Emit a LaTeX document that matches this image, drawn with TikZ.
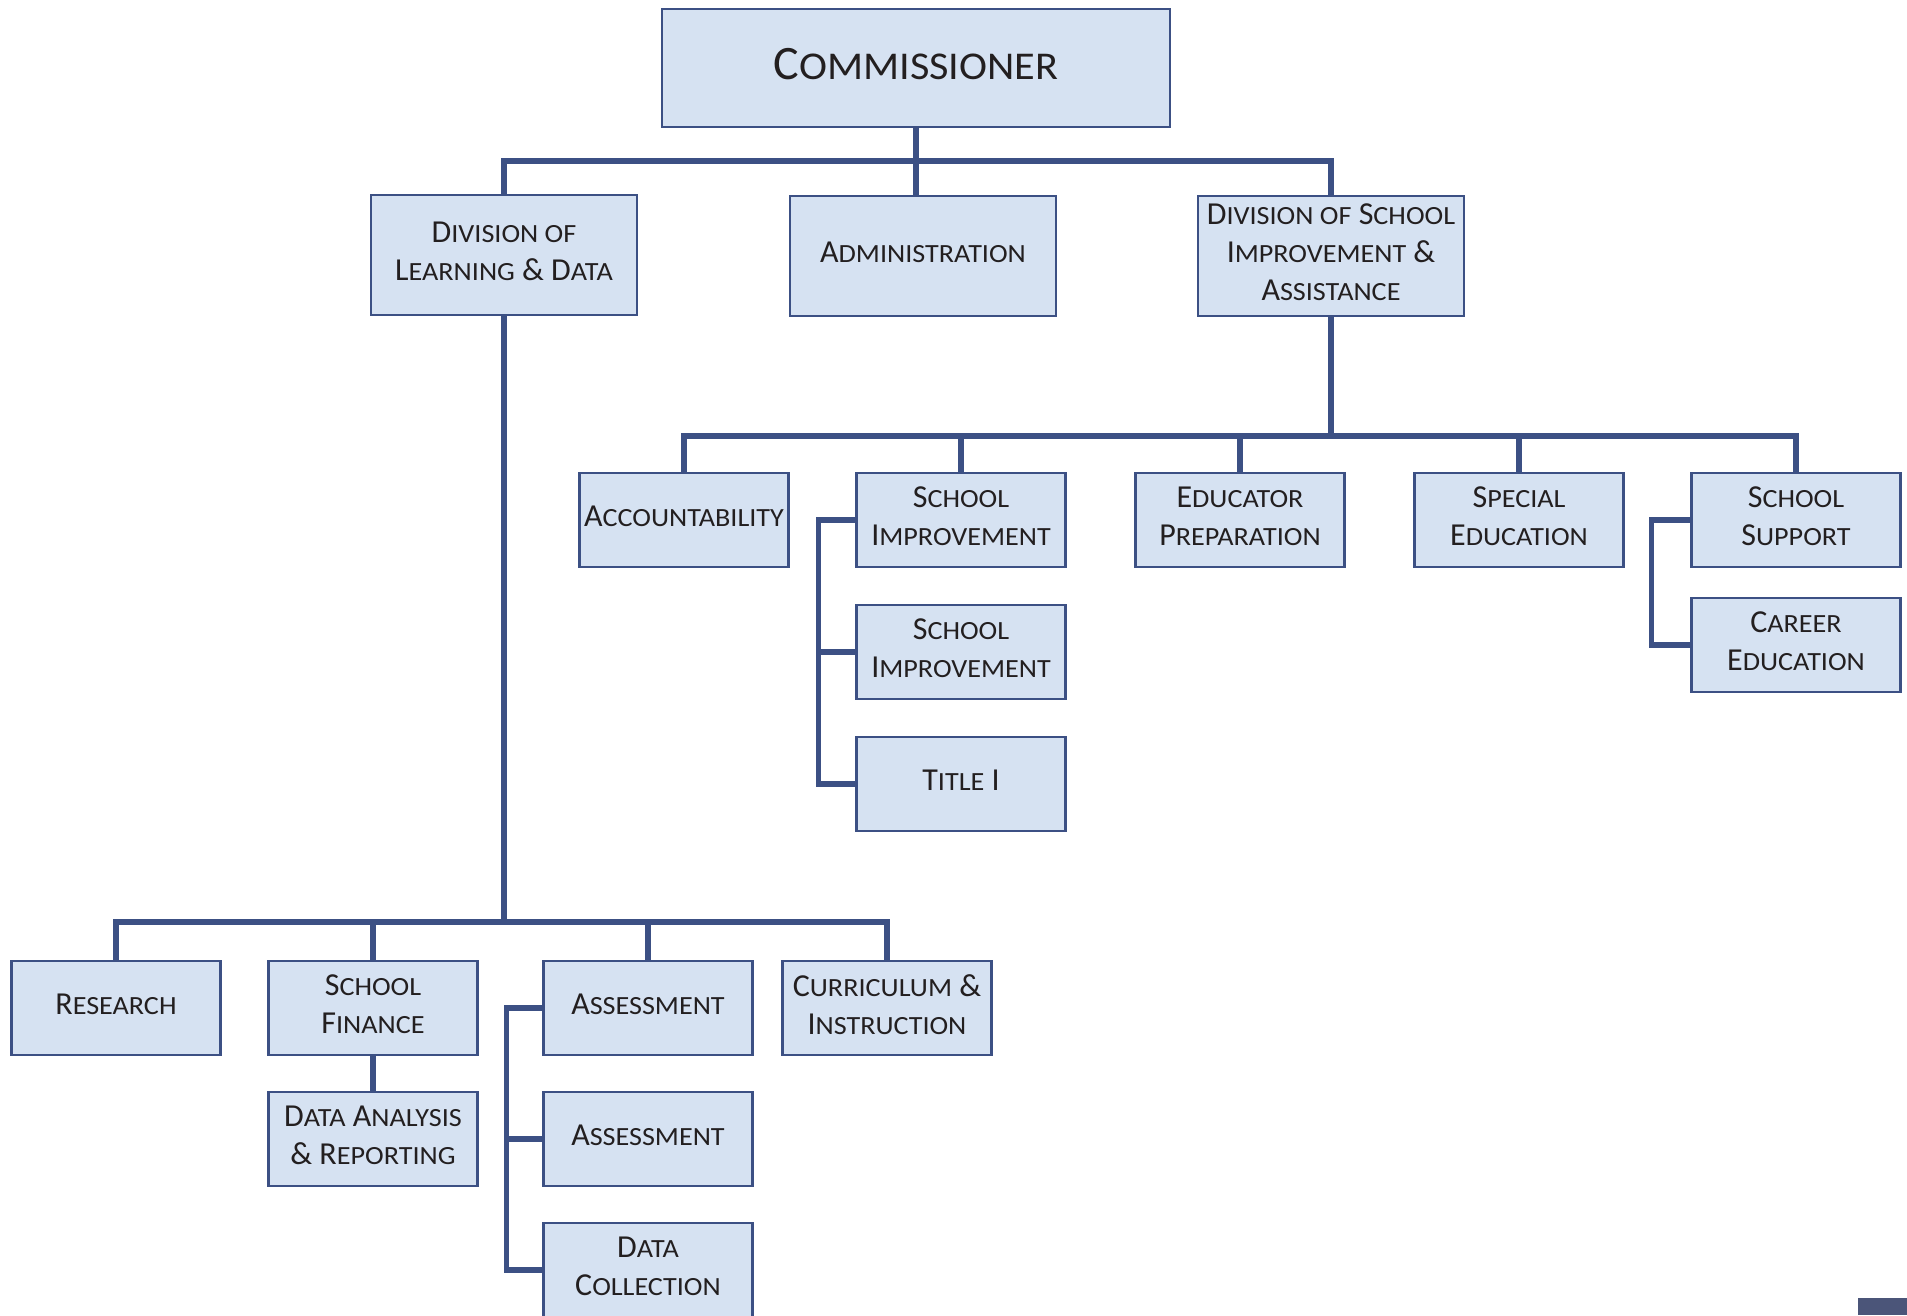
\documentclass[tikz,border=0pt]{standalone}
\usepackage{fontspec}
\setmainfont{Carlito}
\usepackage{graphicx}
\usetikzlibrary{positioning}
\definecolor{boxfill}{HTML}{D6E2F2}
\definecolor{boxline}{HTML}{3C5084}
\definecolor{inkc}{HTML}{231F20}
\definecolor{marker}{HTML}{4B5579}
\newcommand{\sm}[1]{\scalebox{0.88}[0.82]{#1}}

\begin{document}
\begin{tikzpicture}[x=0.75pt,y=-0.75pt]
\tikzstyle{unit}=[rectangle, draw=boxline, line width=1.6pt, fill=boxfill, text=inkc, align=center, inner sep=0pt, text depth=5.5pt, minimum width=156.75pt, minimum height=70.5pt, font=\fontsize{24}{28.3}\selectfont]
\tikzstyle{division}=[unit, minimum width=200pt, minimum height=90pt]
\tikzstyle{head}=[division, minimum width=381pt, minimum height=88.5pt, font=\fontsize{36}{40}\selectfont]
\tikzstyle{connect}=[draw=boxline, line width=3.8pt]
\useasboundingbox (0,0) rectangle (1907,1315);

	% top level
	\node[head] (comm) at (916,68) {C\sm{OMMISSIONER}};
	\node[division] (dld) at (504,255) {D\sm{IVISION OF}\\L\sm{EARNING} \& D\sm{ATA}};
	\node[division] (admin) at (923,256) {A\sm{DMINISTRATION}};
	\node[division] (dsia) at (1331,256) {D\sm{IVISION OF} S\sm{CHOOL}\\I\sm{MPROVEMENT} \&\\A\sm{SSISTANCE}};

	% school improvement & assistance
	\node[unit] (acct) at (684,520) {A\sm{CCOUNTABILITY}};
	\node[unit] (si1) at (961,520) {S\sm{CHOOL}\\I\sm{MPROVEMENT}};
	\node[unit] (ep) at (1240,520) {E\sm{DUCATOR}\\P\sm{REPARATION}};
	\node[unit] (se) at (1519,520) {S\sm{PECIAL}\\E\sm{DUCATION}};
	\node[unit] (ss) at (1796,520) {S\sm{CHOOL}\\S\sm{UPPORT}};
	\node[unit] (si2) at (961,652) {S\sm{CHOOL}\\I\sm{MPROVEMENT}};
	\node[unit] (title) at (961,784) {T\sm{ITLE} I};
	\node[unit] (ce) at (1796,645) {C\sm{AREER}\\E\sm{DUCATION}};

	% learning & data
	\node[unit] (res) at (116,1008) {R\sm{ESEARCH}};
	\node[unit] (sf) at (373,1008) {S\sm{CHOOL}\\F\sm{INANCE}};
	\node[unit] (as1) at (648,1008) {A\sm{SSESSMENT}};
	\node[unit] (ci) at (887,1008) {C\sm{URRICULUM} \&\\I\sm{NSTRUCTION}};
	\node[unit] (da) at (373,1139) {D\sm{ATA} A\sm{NALYSIS}\\\& R\sm{EPORTING}};
	\node[unit] (as2) at (648,1139) {A\sm{SSESSMENT}};
	\node[unit] (dc) at (648,1270) {D\sm{ATA}\\C\sm{OLLECTION}};

	\coordinate (topbus) at (916,161);
	\coordinate (rbus) at (1331,436);
	\coordinate (lbus) at (504,922);

	\draw[connect] (comm.south) -- (comm.south |- admin.north);
	\draw[connect] (dld.north) |- (topbus) -| (dsia.north);

	\draw[connect] (dsia.south) -- (rbus);
	\draw[connect] (acct.north) |- (rbus) -| (ss.north);
	\foreach \n in {si1,ep,se}
		\draw[connect] (\n.north) -- (\n.north |- rbus);
	\draw[connect] (si1.west) -- ++(-37,0) |- (title.west);
	\draw[connect] (si2.west) -- ++(-37,0);
	\draw[connect] (ss.west) -- ++(-39,0) |- (ce.west);

	\draw[connect] (dld.south) -- (lbus);
	\draw[connect] (res.north) |- (lbus) -| (ci.north);
	\foreach \n in {sf,as1}
		\draw[connect] (\n.north) -- (\n.north |- lbus);
	\draw[connect] (sf.south) -- (da.north);
	\draw[connect] (as1.west) -- ++(-36,0) |- (dc.west);
	\draw[connect] (as2.west) -- ++(-36,0);

	\fill[marker] (1858,1298) rectangle (1907,1315);
\end{tikzpicture}
\end{document}
